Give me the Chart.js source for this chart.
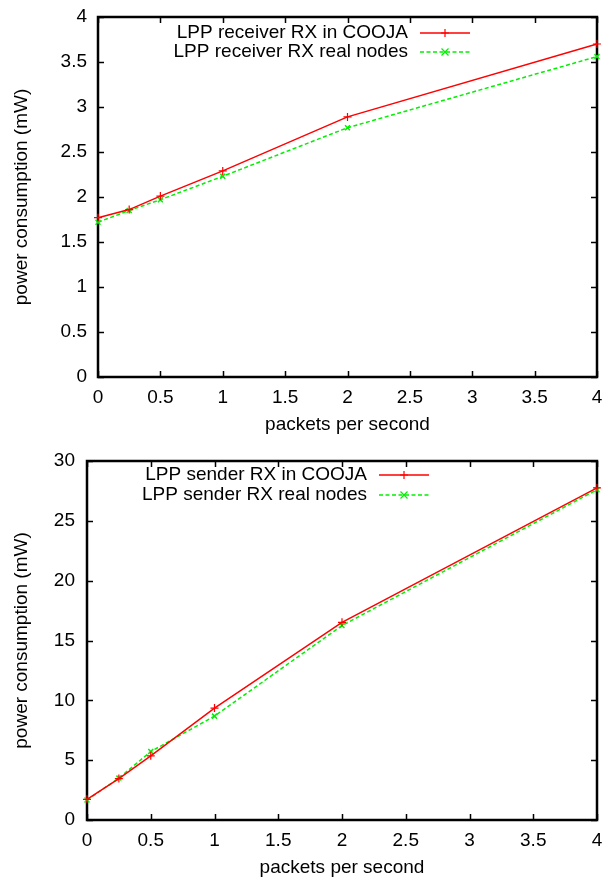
<!DOCTYPE html>
<html>
<head>
<meta charset="utf-8">
<script src="https://cdn.jsdelivr.net/npm/chart.js@4.4.1/dist/chart.umd.min.js"></script>
<style>
  html, body { margin: 0; padding: 0; background: #fff; overflow: hidden; }
  .box { position: absolute; left: 0; width: 605px; }
  #top { top: 0; height: 440px; }
  #bottom { top: 440px; height: 437px; }
</style>
</head>
<body>
<div class="box" id="top"><canvas id="receiverChart"></canvas></div>
<div class="box" id="bottom"><canvas id="senderChart"></canvas></div>
<script>
// packets per second sampled in both experiments
const rates = [0, 0.25, 0.5, 1, 2, 4];

// LPP receiver power (mW)
const receiverCooja = [1.77, 1.86, 2.01, 2.29, 2.89, 3.70];
const receiverReal = [1.72, 1.85, 1.97, 2.23, 2.77, 3.56];

// LPP sender power (mW)
const senderCooja = [1.73, 3.46, 5.36, 9.35, 16.52, 27.75];
const senderReal = [1.67, 3.50, 5.72, 8.68, 16.25, 27.60];

const xTicks = [0, 0.5, 1, 1.5, 2, 2.5, 3, 3.5, 4];
const receiverTicks = [0, 0.5, 1, 1.5, 2, 2.5, 3, 3.5, 4];
const senderTicks = [0, 5, 10, 15, 20, 25, 30];

const FONT = { family: '"Liberation Sans", Arial, Helvetica, sans-serif', size: 19 };
const TITLE_FONT = { ...FONT, lineHeight: 1 };
const RED = '#ff0000';
const GREEN = '#00f000';

const toPoints = ys => rates.map((x, i) => ({ x, y: ys[i] }));
const plain = v => String(v);

// gnuplot-like border with inward ticks on all four sides
const framePlugin = {
    id: 'frame',
    beforeDatasetsDraw(chart) {
        const { ctx, chartArea: a, scales } = chart;
        const len = 6;
        ctx.save();
        ctx.strokeStyle = '#000';
        ctx.lineWidth = 1.5;
        ctx.beginPath();
        scales.x.ticks.forEach(t => {
            const px = Math.round(scales.x.getPixelForValue(t.value)) + 0.5;
            ctx.moveTo(px, a.bottom); ctx.lineTo(px, a.bottom - len);
            ctx.moveTo(px, a.top); ctx.lineTo(px, a.top + len);
        });
        scales.y.ticks.forEach(t => {
            const py = Math.round(scales.y.getPixelForValue(t.value)) + 0.5;
            ctx.moveTo(a.left, py); ctx.lineTo(a.left + len, py);
            ctx.moveTo(a.right, py); ctx.lineTo(a.right - len, py);
        });
        ctx.stroke();
        ctx.lineWidth = 2.5;
        ctx.strokeRect(a.left, a.top, a.right - a.left, a.bottom - a.top);
        ctx.restore();
    },
    afterDatasetsDraw(chart, args, opts) {
        // key: label right-aligned, sample line to its right
        const { ctx, chartArea: a } = chart;
        ctx.save();
        ctx.font = `${FONT.size}px ${FONT.family}`;
        ctx.textAlign = 'right';
        ctx.textBaseline = 'middle';
        chart.data.datasets.forEach((ds, i) => {
            const y = a.top + opts.rowTop + i * opts.rowGap;
            const xr = a.left + opts.textRight;
            ctx.fillStyle = '#000';
            ctx.fillText(ds.label, xr, y);
            const x0 = xr + 12, x1 = xr + 62;
            ctx.strokeStyle = ds.borderColor;
            ctx.lineWidth = ds.borderWidth;
            ctx.setLineDash(ds.borderDash || []);
            ctx.beginPath();
            ctx.moveTo(x0, y); ctx.lineTo(x1, y);
            ctx.stroke();
            ctx.setLineDash([]);
            ctx.lineWidth = 1.2;
            const r = ds.pointRadius, xm = (x0 + x1) / 2;
            ctx.beginPath();
            if (ds.pointStyle === 'cross') {
                ctx.moveTo(xm - r, y); ctx.lineTo(xm + r, y);
                ctx.moveTo(xm, y - r); ctx.lineTo(xm, y + r);
            } else {
                ctx.moveTo(xm - r, y - r); ctx.lineTo(xm + r, y + r);
                ctx.moveTo(xm - r, y + r); ctx.lineTo(xm + r, y - r);
            }
            ctx.stroke();
        });
        ctx.restore();
    }
};

function makeChart(id, cfg) {
    const ctx = document.getElementById(id).getContext('2d');
    return new Chart(ctx, {
        type: 'line',
        data: {
            datasets: [
                {
                    label: cfg.labels[0],
                    data: toPoints(cfg.series[0]),
                    borderColor: RED,
                    backgroundColor: RED,
                    borderWidth: 1.5,
                    pointStyle: 'cross',
                    pointRadius: 4,
                    pointBorderWidth: 1.2,
                    tension: 0,
                    clip: 5
                },
                {
                    label: cfg.labels[1],
                    data: toPoints(cfg.series[1]),
                    borderColor: GREEN,
                    backgroundColor: GREEN,
                    borderWidth: 1.5,
                    borderDash: [4, 2.5],
                    pointStyle: 'crossRot',
                    pointRadius: 3.5,
                    pointBorderWidth: 1.5,
                    tension: 0,
                    clip: 5
                }
            ]
        },
        options: {
            responsive: true,
            maintainAspectRatio: false,
            animation: false,
            events: [],
            layout: { padding: { top: cfg.padTop, right: 8, left: 0, bottom: 0 } },
            plugins: {
                legend: { display: false },
                tooltip: { enabled: false },
                frame: cfg.key
            },
            scales: {
                x: {
                    type: 'linear',
                    min: 0,
                    max: 4,
                    afterBuildTicks: s => { s.ticks = xTicks.map(v => ({ value: v })); },
                    afterFit: s => {
                        s.height = cfg.xHeight;
                        s.paddingLeft = 0;
                        s.paddingRight = 0;
                    },
                    grid: { display: false, drawTicks: false },
                    border: { display: false },
                    ticks: { color: '#000', font: FONT, padding: 9, maxRotation: 0, callback: plain },
                    title: {
                        display: true,
                        text: 'packets per second',
                        color: '#000',
                        font: TITLE_FONT,
                        padding: { top: 0, bottom: cfg.xTitlePad }
                    }
                },
                y: {
                    type: 'linear',
                    min: 0,
                    max: cfg.yTicks[cfg.yTicks.length - 1],
                    afterBuildTicks: s => { s.ticks = cfg.yTicks.map(v => ({ value: v })); },
                    afterFit: s => {
                        s.width = cfg.yWidth;
                        s.paddingTop = 0;
                        s.paddingBottom = 0;
                    },
                    grid: { display: false, drawTicks: false },
                    border: { display: false },
                    ticks: { color: '#000', font: FONT, padding: cfg.yTickPad, callback: plain },
                    title: {
                        display: true,
                        text: 'power consumption (mW)',
                        color: '#000',
                        font: TITLE_FONT,
                        padding: { top: 12, bottom: 0 }
                    }
                }
            }
        },
        plugins: [framePlugin]
    });
}

makeChart('receiverChart', {
    labels: ['LPP receiver RX in COOJA', 'LPP receiver RX real nodes'],
    series: [receiverCooja, receiverReal],
    yTicks: receiverTicks,
    padTop: 17,
    yWidth: 98,
    xHeight: 63,
    yTickPad: 11,
    xTitlePad: 5.5,
    key: { textRight: 310, rowTop: 16, rowGap: 19 }
});

makeChart('senderChart', {
    labels: ['LPP sender RX in COOJA', 'LPP sender RX real nodes'],
    series: [senderCooja, senderReal],
    yTicks: senderTicks,
    padTop: 21,
    yWidth: 87,
    xHeight: 57,
    yTickPad: 12,
    xTitlePad: 0,
    key: { textRight: 280, rowTop: 14, rowGap: 20 }
});
</script>
</body>
</html>
